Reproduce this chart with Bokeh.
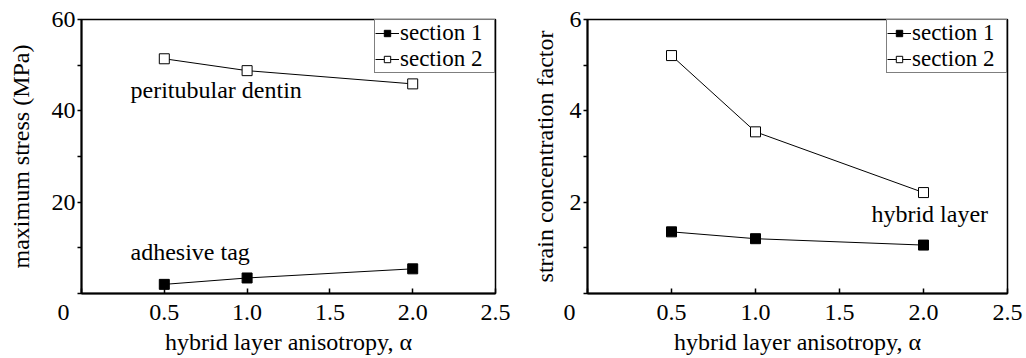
from bokeh.plotting import figure
from bokeh.layouts import row
from bokeh.models import FixedTicker, Label, Legend, LegendItem
from bokeh.embed import file_html
from bokeh.resources import INLINE

# ---- data ----
alpha = [0.5, 1.0, 2.0]
stress_sec1 = [2.0, 3.4, 5.4]
stress_sec2 = [51.4, 48.8, 45.9]
scf_sec1 = [1.35, 1.20, 1.06]
scf_sec2 = [5.21, 3.54, 2.21]
series_names = ["section 1", "section 2"]
x_ticks = [0, 0.5, 1.0, 1.5, 2.0, 2.5]
x_labels = {0: "0" + "\u00a0" * 6, 0.5: "0.5", 1: "1.0", 1.5: "1.5", 2: "2.0", 2.5: "2.5"}
y1_ticks = [0, 10, 20, 30, 40, 50, 60]
y1_labels = {0: "", 10: "", 20: "20", 30: "", 40: "40", 50: "", 60: "60"}
y2_ticks = [0, 1, 2, 3, 4, 5, 6]
y2_labels = {0: "", 1: "", 2: "2", 3: "", 4: "4", 5: "", 6: "6"}

FONT = "Liberation Serif"
FS = "24px"


def make_panel(width, yr, yticks, ylabels, ylabel, s1, s2, bl, br, bt, bb, ylab_standoff):
    p = figure(width=width, height=358, x_range=(0, 2.5), y_range=yr,
               output_backend="svg", toolbar_location=None,
               min_border_left=bl, min_border_right=br, min_border_top=bt, min_border_bottom=bb)
    p.grid.visible = False
    p.outline_line_color = "black"
    p.outline_line_width = 1.5
    p.background_fill_color = "white"
    p.border_fill_color = "white"

    xa = p.xaxis[0]
    xa.ticker = FixedTicker(ticks=x_ticks)
    xa.major_label_overrides = x_labels
    xa.major_tick_in = 5
    xa.major_tick_out = 0
    xa.minor_tick_line_color = None
    xa.major_label_standoff = 5
    xa.axis_label = "hybrid layer anisotropy, α"
    xa.axis_label_standoff = 1

    ya = p.yaxis[0]
    ya.ticker = FixedTicker(ticks=yticks)
    ya.major_label_overrides = ylabels
    ya.major_tick_in = 0
    ya.major_tick_out = 4
    ya.minor_tick_line_color = None
    ya.major_label_standoff = 2
    ya.axis_label = ylabel
    ya.axis_label_standoff = ylab_standoff

    for ax in (xa, ya):
        ax.axis_line_width = 2
        ax.axis_line_color = "black"
        ax.major_tick_line_width = 1.5
        ax.major_tick_line_color = "black"
        ax.major_label_text_font = FONT
        ax.major_label_text_font_size = FS
        ax.major_label_text_color = "black"
        ax.axis_label_text_font = FONT
        ax.axis_label_text_font_size = FS
        ax.axis_label_text_font_style = "normal"
        ax.axis_label_text_color = "black"

    items = []
    for name, ys, fill in ((series_names[0], s1, "black"), (series_names[1], s2, "white")):
        ln = p.line(alpha, ys, line_color="black", line_width=1)
        m = p.scatter(alpha, ys, marker="square", size=10, fill_color=fill,
                      line_color="black", line_width=1)
        items.append(LegendItem(label=name, renderers=[ln, m]))

    leg = Legend(items=items, location="top_right", margin=0, padding=0, spacing=0,
                 border_line_color="black", border_line_width=1.5,
                 label_text_font=FONT, label_text_font_size="23px", label_text_color="black",
                 glyph_width=24, glyph_height=16, label_height=16, label_standoff=1,
                 label_width=94)
    p.add_layout(leg)
    return p


p1 = make_panel(515, (0, 60), y1_ticks, y1_labels, "maximum stress (MPa)",
                stress_sec1, stress_sec2, 81, 20, 19, 63, 15)
p1.add_layout(Label(x=0.296, y=44.6, text="peritubular dentin", text_align="left",
                    text_baseline="middle", text_font=FONT, text_font_size=FS, text_color="black"))
p1.add_layout(Label(x=0.296, y=9.1, text="adhesive tag", text_align="left",
                    text_baseline="middle", text_font=FONT, text_font_size=FS, text_color="black"))

p2 = make_panel(511, (0, 6), y2_ticks, y2_labels, "strain concentration factor",
                scf_sec1, scf_sec2, 72, 19, 17, 65, 9)
p2.add_layout(Label(x=1.69, y=1.74, text="hybrid layer", text_align="left",
                    text_baseline="middle", text_font=FONT, text_font_size=FS, text_color="black"))

layout = row(p1, p2)
open("out.html", "w").write(file_html(layout, INLINE))
